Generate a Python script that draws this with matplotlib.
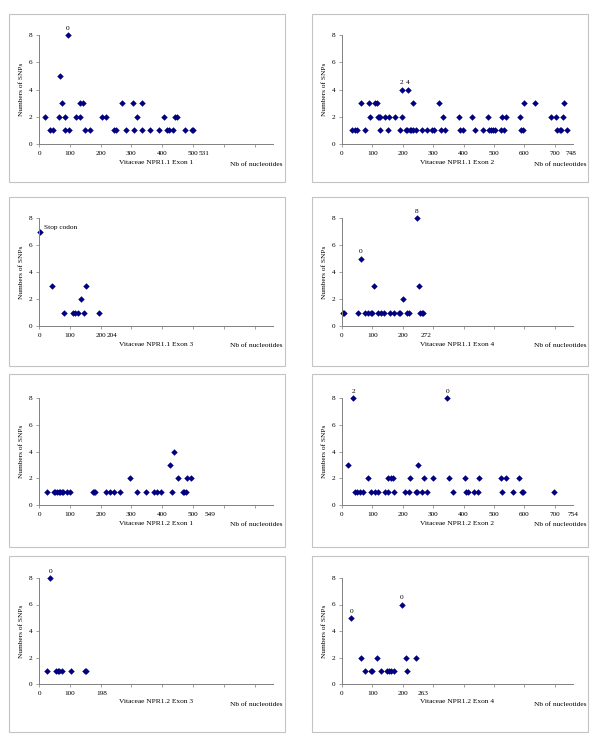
import matplotlib.pyplot as plt
from matplotlib.patches import Rectangle
from matplotlib.transforms import offset_copy, blended_transform_factory

plt.rcParams['font.family'] = ['Liberation Serif', 'DejaVu Serif']

W, H = 600, 735

# SNP positions (nucleotide) and number of SNPs
npr11_e1_pos = [18, 37, 45, 65, 69, 75, 85, 83, 94, 96, 119, 132, 144, 134, 151, 165, 204, 219,
                244, 249, 268, 281, 305, 310, 319, 333, 335, 359, 391, 405, 415, 422, 436, 441,
                449, 474, 496, 499]
npr11_e1_snp = [2, 1, 1, 2, 5, 3, 2, 1, 8, 1, 2, 3, 3, 2, 1, 1, 2, 2,
                1, 1, 3, 1, 3, 1, 2, 3, 1, 1, 1, 2, 1, 1, 1, 2,
                2, 1, 1, 1]
npr11_e1_notes = {94: '0'}

npr11_e2_pos = [32, 43, 49, 61, 77, 90, 93, 110, 114, 117, 121, 124, 126, 141, 151, 156, 174, 190,
                196, 199, 210, 214, 217, 224, 228, 232, 233, 242, 262, 280, 297, 303, 319, 326,
                332, 338, 385, 388, 399, 427, 438, 465, 480, 484, 490, 497, 503, 522, 533, 528,
                538, 585, 590, 595, 598, 636, 688, 703, 707, 717, 722, 726, 730, 739]
npr11_e2_snp = [1, 1, 1, 3, 1, 3, 2, 3, 3, 2, 2, 2, 1, 2, 1, 2, 2, 1,
                4, 2, 1, 1, 4, 1, 1, 1, 3, 1, 1, 1, 1, 1, 3, 1,
                2, 1, 2, 1, 1, 2, 1, 1, 2, 1, 1, 1, 1, 1, 1, 2,
                2, 2, 1, 1, 3, 3, 2, 2, 1, 1, 1, 2, 3, 1]
npr11_e2_notes = {196: '2', 217: '4'}

npr11_e3_pos = [4, 41, 80, 109, 116, 126, 138, 145, 152, 196]
npr11_e3_snp = [7, 3, 1, 1, 1, 1, 2, 1, 3, 1]
npr11_e3_notes = {4: 'Stop codon'}

npr11_e4_pos = [3, 6, 52, 62, 75, 86, 96, 100, 105, 118, 129, 139, 158, 172, 189, 192, 200, 215,
                219, 246, 253, 257, 262, 268]
npr11_e4_snp = [1, 1, 1, 5, 1, 1, 1, 1, 3, 1, 1, 1, 1, 1, 1, 1, 2, 1,
                1, 8, 3, 1, 1, 1]
npr11_e4_notes = {62: '0', 246: '8'}

npr12_e1_pos = [27, 49, 53, 58, 65, 69, 74, 79, 90, 101, 174, 178, 183, 219, 232, 242, 263, 294,
                317, 348, 375, 384, 397, 426, 431, 439, 452, 468, 472, 476, 480, 494]
npr12_e1_snp = [1, 1, 1, 1, 1, 1, 1, 1, 1, 1, 1, 1, 1, 1, 1, 1, 1, 2,
                1, 1, 1, 1, 1, 3, 1, 4, 2, 1, 1, 1, 2, 2]
npr12_e1_notes = {}

npr12_e2_pos = [21, 37, 43, 50, 60, 68, 87, 95, 110, 117, 141, 151, 152, 161, 167, 171, 207, 222,
                225, 242, 246, 251, 262, 271, 279, 300, 347, 352, 366, 405, 409, 416, 433, 447,
                450, 523, 526, 538, 561, 583, 592, 596, 698]
npr12_e2_snp = [3, 8, 1, 1, 1, 1, 2, 1, 1, 1, 1, 1, 2, 2, 2, 1, 1, 1,
                2, 1, 1, 3, 1, 2, 1, 2, 8, 2, 1, 2, 1, 1, 1, 1,
                2, 2, 1, 2, 1, 2, 1, 1, 1]
npr12_e2_notes = {37: '2', 347: '0'}

npr12_e3_pos = [27, 36, 55, 61, 65, 76, 104, 149, 154]
npr12_e3_snp = [1, 8, 1, 1, 1, 1, 1, 1, 1]
npr12_e3_notes = {36: '0'}

npr12_e4_pos = [30, 62, 77, 94, 100, 114, 128, 148, 156, 162, 170, 197, 209, 215, 242]
npr12_e4_snp = [5, 2, 1, 1, 1, 2, 1, 1, 1, 1, 1, 6, 2, 1, 2]
npr12_e4_notes = {30: '0', 197: '0'}

titles = ['Vitaceae NPR1.1 Exon 1', 'Vitaceae NPR1.1 Exon 2', 'Vitaceae NPR1.1 Exon 3',
          'Vitaceae NPR1.1 Exon 4', 'Vitaceae NPR1.2 Exon 1', 'Vitaceae NPR1.2 Exon 2',
          'Vitaceae NPR1.2 Exon 3', 'Vitaceae NPR1.2 Exon 4']
exon_lengths = [531, 748, 204, 272, 549, 754, 198, 263]
x_ticks = [0, 100, 200, 300, 400, 500, 600, 700]
y_ticks = [0, 2, 4, 6, 8]

series = [
    (npr11_e1_pos, npr11_e1_snp, npr11_e1_notes),
    (npr11_e2_pos, npr11_e2_snp, npr11_e2_notes),
    (npr11_e3_pos, npr11_e3_snp, npr11_e3_notes),
    (npr11_e4_pos, npr11_e4_snp, npr11_e4_notes),
    (npr12_e1_pos, npr12_e1_snp, npr12_e1_notes),
    (npr12_e2_pos, npr12_e2_snp, npr12_e2_notes),
    (npr12_e3_pos, npr12_e3_snp, npr12_e3_notes),
    (npr12_e4_pos, npr12_e4_snp, npr12_e4_notes),
]

# layout in pixels (top-left origin)
frame_cols = [(9, 285), (312, 588)]
frame_rows = [(14, 182), (197, 366), (374, 547), (556, 732)]
axes_cols = [(39, 273), (342, 573)]
axes_rows = [(35, 144), (218, 326), (398, 505), (578, 684)]
XMAX = 760

NAVY = '#000080'
TICK_FS = 5.2
FS = 5.3


def px_rect(x0, y0, x1, y1):
    return [x0 / W, 1 - y1 / H, (x1 - x0) / W, (y1 - y0) / H]


fig = plt.figure(figsize=(W / 100, H / 100), dpi=100)

for i, (pos, snp, notes) in enumerate(series):
    row, col = divmod(i, 2)
    fx0, fx1 = frame_cols[col]
    fy0, fy1 = frame_rows[row]
    l, b, w, h = px_rect(fx0, fy0, fx1, fy1)
    fig.patches.append(Rectangle((l, b), w, h, transform=fig.transFigure, fill=False,
                                 edgecolor='#c4c4c4', lw=0.8))

    ax0, ax1 = axes_cols[col]
    ay0, ay1 = axes_rows[row]
    ax = fig.add_axes(px_rect(ax0, ay0, ax1, ay1))
    ax.plot(pos, snp, linestyle='none', marker='D', markersize=3.3, color=NAVY,
            markeredgewidth=0, clip_on=False)

    ax.set_xlim(0, XMAX)
    ax.set_ylim(0, 8)
    ax.set_yticks(y_ticks)
    ax.set_yticklabels([str(v) for v in y_ticks])
    length = exon_lengths[i]
    ax.set_xticks(x_ticks)
    ax.set_xticklabels([str(v) if v <= length else '' for v in x_ticks])
    ax.tick_params(direction='out', length=2.5, width=0.6, color='#909090',
                   labelsize=TICK_FS, pad=2.5)
    for side in ['top', 'right']:
        ax.spines[side].set_visible(False)
    for side in ['left', 'bottom']:
        ax.spines[side].set_color('#808080')
        ax.spines[side].set_linewidth(0.7)

    # exon length label, pushed right of the last round tick label if too close
    scale = (ax1 - ax0) / XMAX
    gap_px = (length - length // 100 * 100) * scale
    shift_px = max(1.5, 11.5 - gap_px)
    trans = blended_transform_factory(ax.transData, ax.transAxes)
    ax.text(length, 0, str(length), fontsize=TICK_FS, ha='center', va='top',
            transform=offset_copy(trans, fig=fig, x=shift_px * 0.72, y=-5.0, units='points'))

    ax.set_ylabel('Numbers of SNPs', fontsize=FS, labelpad=3)
    ax.text(0.5, -0.145, titles[i], fontsize=FS, ha='center', va='top',
            transform=ax.transAxes)
    fig.text((fx1 - 2) / W, 1 - (ay1 + 20) / H, 'Nb of nucleotides', fontsize=FS,
             ha='right', va='center')

    for x, label in notes.items():
        y = snp[pos.index(x)]
        if label == 'Stop codon':
            ax.annotate(label, (x, y), xytext=(2.5, 3), textcoords='offset points',
                        fontsize=FS, ha='left', va='center')
        else:
            ax.annotate(label, (x, y), xytext=(0, 3), textcoords='offset points',
                        fontsize=FS, ha='center', va='bottom')

fig.savefig('out.png', dpi=100)
